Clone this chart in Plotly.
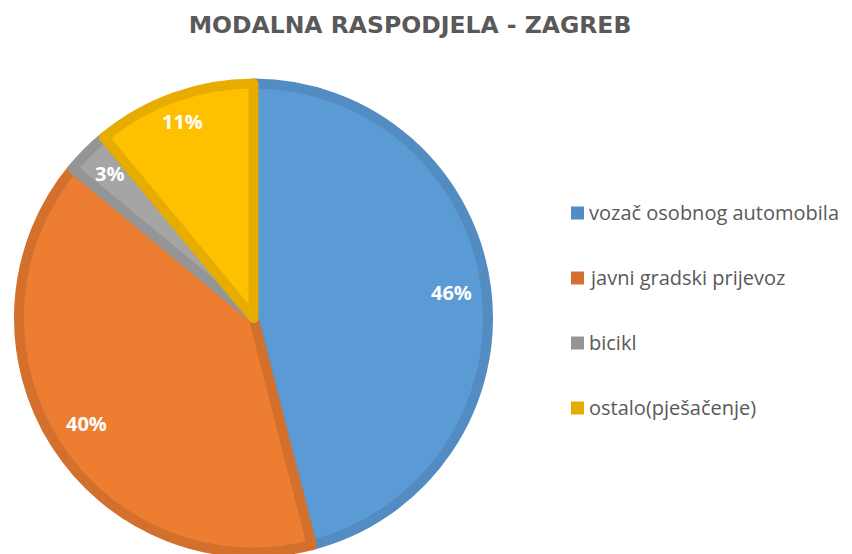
import math
import plotly.graph_objects as go

# ---- data ----
labels = ["vozač osobnog automobila", "javni gradski prijevoz", "bicikl", "ostalo(pješačenje)"]
values = [46, 40, 3, 11]
title_text = "MODALNA RASPODJELA - ZAGREB"

# ---- style ----
fill_colors = ["#5B9BD5", "#ED7D31", "#A5A5A5", "#FFC000"]
line_colors = ["#528CC2", "#D4702D", "#959595", "#E6AD00"]
label_radius_frac = [0.853, 0.843, 0.87, 0.891]

OFF = 8                          # page body margin
W, H = 852 - 2 * OFF, 554 - OFF  # figure size


def fx(px):  # reference pixel x -> paper x
    return (px - OFF) / W


def fy(py):  # reference pixel y -> paper y
    return 1 - (py - OFF) / H


cx, cy, R = 253.5, 318.0, 234.5   # pie centre / radius in reference pixels
FONT = "Open Sans"

fig = go.Figure()
fig.add_trace(go.Pie(
    labels=labels,
    values=values,
    sort=False,
    direction="clockwise",
    rotation=0,
    marker=dict(colors=fill_colors, line=dict(color=line_colors, width=10)),
    textinfo="none",
    hoverinfo="label+percent",
    showlegend=False,
    domain=dict(x=[fx(cx - R), fx(cx + R)], y=[fy(cy + R), fy(cy - R)]),
))

annotations = []
# data labels at each slice's mid-angle
total = sum(values)
cum = 0
for v, rf in zip(values, label_radius_frac):
    mid = (cum + v / 2) / total * 2 * math.pi
    cum += v
    px = cx + rf * R * math.sin(mid)
    py = cy - rf * R * math.cos(mid)
    annotations.append(dict(
        x=fx(px), y=fy(py), xref="paper", yref="paper",
        text=f"<b>{round(v / total * 100)}%</b>", showarrow=False,
        font=dict(family=FONT, size=20, color="white"),
        xanchor="center", yanchor="middle",
    ))

# legend
shapes = []
leg_x, leg_y0, leg_dy = 571, 213, 65
for i, (lab, col) in enumerate(zip(labels, line_colors)):
    yc = leg_y0 + i * leg_dy
    shapes.append(dict(type="rect", xref="paper", yref="paper",
                       x0=fx(leg_x), x1=fx(leg_x + 13),
                       y0=fy(yc + 6.5), y1=fy(yc - 6.5),
                       fillcolor=col, line=dict(width=0)))
    annotations.append(dict(
        x=fx(leg_x + 16), y=fy(yc - 1), xref="paper", yref="paper",
        text=lab, showarrow=False, xanchor="left", yanchor="middle",
        font=dict(family=FONT, size=20, color="#595959"),
    ))

fig.update_layout(
    width=W, height=H,
    margin=dict(l=0, r=0, t=0, b=0),
    paper_bgcolor="white", plot_bgcolor="white",
    title=dict(text=f"<b>{title_text}</b>", x=fx(410), xanchor="center",
               y=fy(25), yanchor="middle", yref="container",
               font=dict(family="DejaVu Sans", size=23.5, color="#595959")),
    annotations=annotations,
    shapes=shapes,
)

fig.write_html("out.html")
